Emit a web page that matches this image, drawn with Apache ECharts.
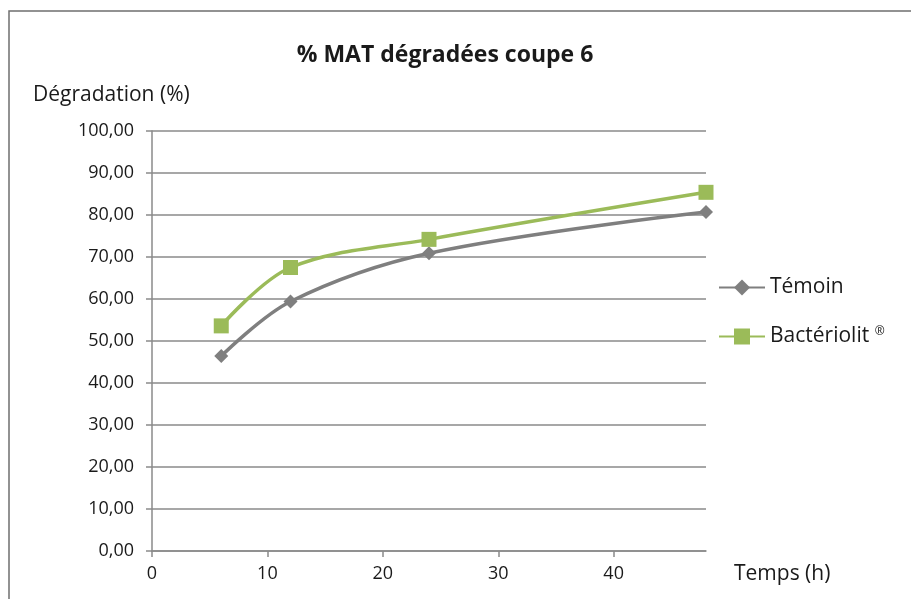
<!DOCTYPE html>
<html>
<head>
<meta charset="utf-8">
<script src="https://cdn.jsdelivr.net/npm/echarts@6/dist/echarts.min.js"></script>
<style>
  html, body { margin: 0; padding: 0; background: #fff; }
  #chart { width: 911px; height: 599px; }
</style>
</head>
<body>
<div id="chart"></div>
<script>
// % MAT dégradées coupe 6
(function () {
  var myChart = echarts.init(document.getElementById("chart"));

  var hours = [6, 12, 24, 48];
  var temoin = [46.4, 59.4, 70.9, 80.7];
  var bacteriolit = [53.6, 67.5, 74.2, 85.4];
  var xTicks = [0, 10, 20, 30, 40];

  function pairs(xs, ys) {
    return xs.map(function (x, i) { return [x, ys[i]]; });
  }

  var textColor = "#1a1a1a";
  var gridColor = "#8a8a8a";
  var font = "Open Sans";

  option = {
    animation: false,
    textStyle: { fontFamily: font },
    title: [
      {
        text: "% MAT dégradées coupe 6",
        left: 440,
        top: 39,
        textAlign: "center",
        textStyle: { fontSize: 23, fontWeight: "bold", color: textColor, fontFamily: font },
      },
      {
        text: "Dégradation (%)",
        left: 28,
        top: 80,
        textStyle: { fontSize: 21, fontWeight: "normal", color: textColor, fontFamily: font },
      },
      {
        text: "Temps (h)",
        left: 729,
        top: 559,
        textStyle: { fontSize: 21, fontWeight: "normal", color: textColor, fontFamily: font },
      },
    ],
    graphic: [
      {
        type: "rect",
        shape: { x: 9, y: 11, width: 1000, height: 1000 },
        style: { fill: "none", stroke: "#6f6f6f", lineWidth: 1.5 },
        silent: true,
      },
    ],
    legend: {
      orient: "vertical",
      left: 713,
      top: 271,
      itemWidth: 46,
      itemHeight: 20,
      itemGap: 26,
      textStyle: {
        fontSize: 21,
        lineHeight: 23,
        color: textColor,
        fontFamily: font,
        rich: {
          sup: { fontSize: 12, padding: [0, 0, 10, 0], color: textColor },
        },
      },
      formatter: function (name) {
        return name.replace("®", "{sup|®}");
      },
      data: ["Témoin", "Bactériolit ®"],
    },
    grid: {
      left: 152,
      right: 205,
      top: 131,
      bottom: 48,
      containLabel: false,
    },
    xAxis: {
      type: "value",
      min: 0,
      max: 48,
      interval: 10,
      splitLine: { show: false },
      axisLine: { lineStyle: { color: gridColor, width: 1.5 } },
      axisTick: { length: 6, lineStyle: { color: gridColor, width: 1.5 }, customValues: xTicks },
      axisLabel: {
        fontSize: 18,
        color: textColor,
        margin: 14,
        customValues: xTicks,
      },
    },
    yAxis: {
      type: "value",
      min: 0,
      max: 100,
      interval: 10,
      axisLine: { show: true, lineStyle: { color: gridColor, width: 1.5 } },
      axisTick: { show: true, length: 6, lineStyle: { color: gridColor, width: 1.5 } },
      splitLine: { lineStyle: { color: gridColor, width: 1.5 } },
      axisLabel: {
        fontSize: 18,
        color: textColor,
        margin: 18,
        formatter: function (v) {
          return v.toFixed(2).replace(".", ",");
        },
      },
    },
    series: [
      {
        name: "Témoin",
        type: "line",
        smooth: 0.35,
        symbol: "diamond",
        symbolSize: 14,
        data: pairs(hours, temoin),
        itemStyle: { color: "#7f7f7f" },
        lineStyle: { color: "#7f7f7f", width: 3.5 },
      },
      {
        name: "Bactériolit ®",
        type: "line",
        smooth: 0.35,
        symbol: "rect",
        symbolSize: 15,
        data: pairs(hours, bacteriolit),
        itemStyle: { color: "#9bbb59" },
        lineStyle: { color: "#9bbb59", width: 3.5 },
      },
    ],
  };
  myChart.setOption(option);
  window.addEventListener("resize", function () {
    myChart.resize();
  });
})();
</script>
</body>
</html>
